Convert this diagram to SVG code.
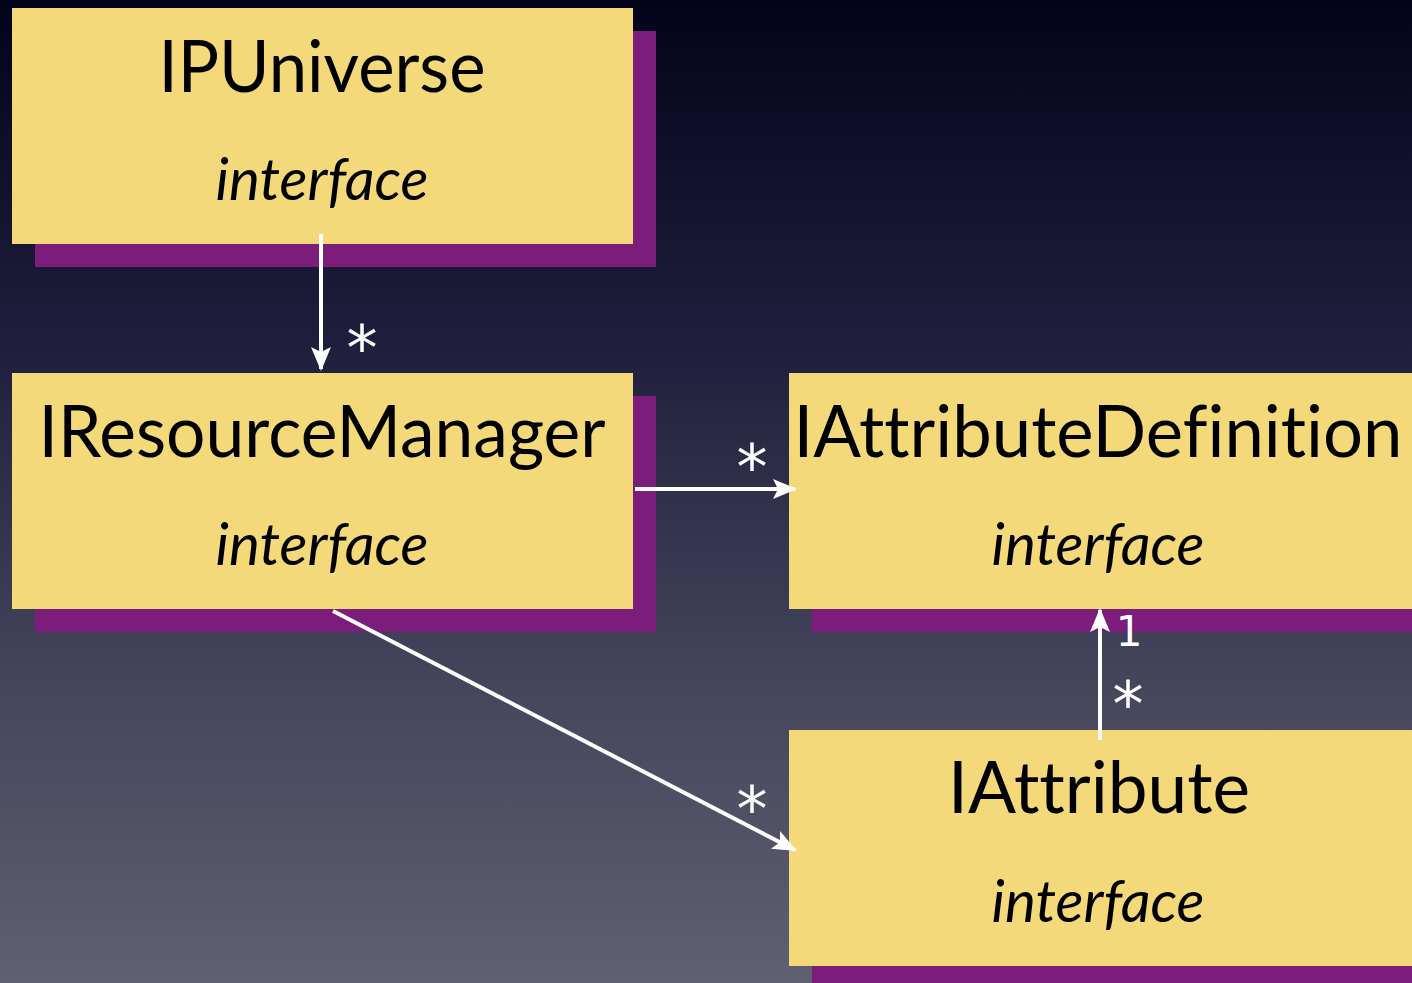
<svg xmlns="http://www.w3.org/2000/svg" width="1412" height="983" viewBox="0 0 1412 983">
<defs>
<linearGradient id="bg" x1="0" y1="0" x2="0" y2="1">
<stop offset="0" stop-color="#03031a"/>
<stop offset="0.35" stop-color="#1f1f3d"/>
<stop offset="0.7" stop-color="#45455c"/>
<stop offset="1" stop-color="#5f6072"/>
</linearGradient>
<marker id="arr" viewBox="0 0 24 20" refX="22" refY="10" markerWidth="24" markerHeight="20" orient="auto" markerUnits="userSpaceOnUse">
<path d="M0,0 L24,10 L0,20 L5,10 Z" fill="#ffffff"/>
</marker>
</defs>
<style>
.shadow{fill:#7c1d7c}
.box{fill:#f3d97a}
.title{font-family:Lato,"Open Sans","Liberation Sans",sans-serif;font-size:72px;fill:#000;text-anchor:middle;font-variant-ligatures:none;font-feature-settings:"liga" 0,"dlig" 0}
.sub{font-family:Lato,"Open Sans","Liberation Sans",sans-serif;font-style:italic;font-size:58px;fill:#000;text-anchor:middle;font-variant-ligatures:none}
.conn{stroke:#ffffff;stroke-width:4;fill:none}
.mult{font-family:"DejaVu Sans",sans-serif;font-size:62px;fill:#ffffff;text-anchor:middle}
.one{font-family:"DejaVu Sans",sans-serif;font-size:42px;fill:#ffffff;text-anchor:middle}
</style>
<rect x="0" y="0" width="1412" height="983" fill="url(#bg)"/>
<g id="node-ipuniverse">
<rect class="shadow" x="35" y="31" width="621" height="236"/>
<rect class="box" x="12" y="8" width="621" height="236"/>
<text class="title" x="322" y="92" textLength="327" lengthAdjust="spacingAndGlyphs">IPUniverse</text>
<text class="sub" x="322" y="200" textLength="213" lengthAdjust="spacingAndGlyphs">interface</text>
</g>
<g id="node-iresourcemanager">
<rect class="shadow" x="35" y="396" width="621" height="236"/>
<rect class="box" x="12" y="373" width="621" height="236"/>
<text class="title" x="322" y="457" textLength="567" lengthAdjust="spacingAndGlyphs">IResourceManager</text>
<text class="sub" x="322" y="565" textLength="213" lengthAdjust="spacingAndGlyphs">interface</text>
</g>
<g id="node-iattributedefinition">
<rect class="shadow" x="812" y="396" width="620" height="236"/>
<rect class="box" x="789" y="373" width="623" height="236"/>
<text class="title" x="1098" y="457" textLength="609" lengthAdjust="spacingAndGlyphs">IAttributeDefinition</text>
<text class="sub" x="1098" y="565" textLength="213" lengthAdjust="spacingAndGlyphs">interface</text>
</g>
<g id="node-iattribute">
<rect class="shadow" x="812" y="753" width="620" height="236"/>
<rect class="box" x="789" y="730" width="623" height="236"/>
<text class="title" x="1099" y="813" textLength="302" lengthAdjust="spacingAndGlyphs">IAttribute</text>
<text class="sub" x="1098" y="922" textLength="213" lengthAdjust="spacingAndGlyphs">interface</text>
</g>
<g id="connectors">
<line class="conn" x1="321" y1="234" x2="321" y2="369" marker-end="url(#arr)"/>
<line class="conn" x1="635" y1="489" x2="795" y2="489" marker-end="url(#arr)"/>
<line class="conn" x1="333" y1="611" x2="795" y2="850" marker-end="url(#arr)"/>
<line class="conn" x1="1100" y1="740" x2="1100" y2="610" marker-end="url(#arr)"/>
<text class="mult" x="362" y="370">*</text>
<text class="mult" x="752" y="489">*</text>
<text class="mult" x="752" y="831">*</text>
<text class="mult" x="1128" y="726">*</text>
<text class="one" x="1129" y="646">1</text>
</g>
</svg>
